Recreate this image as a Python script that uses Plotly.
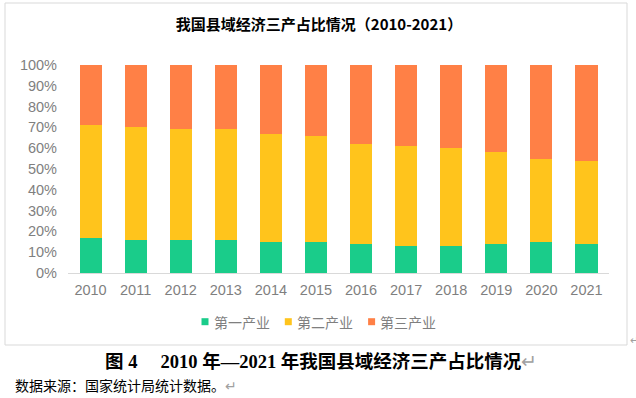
import plotly.graph_objects as go

years = ["2010", "2011", "2012", "2013", "2014", "2015", "2016", "2017", "2018", "2019", "2020", "2021"]
primary = [17, 16, 16, 16, 15, 15, 14, 13, 13, 14, 15, 14]
secondary = [54, 54, 53, 53, 52, 51, 48, 48, 47, 44, 40, 40]
tertiary = [29, 30, 31, 31, 33, 34, 38, 39, 40, 42, 45, 46]
series_names = ["第一产业", "第二产业", "第三产业"]
colors = ["#1ACC8A", "#FFC41C", "#FF8046"]

W, H = 636, 398
L, R, T, B = 68, 609, 65, 273  # plot area in px

def px(x):
    return (x - L) / (R - L)

def py(y):
    return (B - y) / (B - T)

cjk = "Noto Sans CJK SC, Liberation Sans, sans-serif"
fig = go.Figure()
for name, vals, c in zip(series_names, [primary, secondary, tertiary], colors):
    fig.add_trace(go.Bar(x=years, y=vals, name=name, marker=dict(color=c, line=dict(width=0)),
                         width=0.49, showlegend=False))

shapes = [dict(type="rect", xref="paper", yref="paper", x0=px(5), x1=px(627), y0=py(345), y1=py(3),
               line=dict(color="#D9D9D9", width=1), fillcolor="rgba(0,0,0,0)", layer="below")]
annotations = []
# custom legend
leg_x0, leg_dx, leg_y = 205, 83.3, 321.7
for i, (name, c) in enumerate(zip(series_names, colors)):
    cx = leg_x0 + i * leg_dx
    shapes.append(dict(type="rect", xref="paper", yref="paper", x0=px(cx - 3.5), x1=px(cx + 3.5),
                       y0=py(leg_y + 3.5), y1=py(leg_y - 3.5), line=dict(width=0), fillcolor=c))
    annotations.append(dict(text=name, xref="paper", yref="paper", x=px(cx + 6.5), y=py(leg_y + 0.5),
                            xanchor="left", yanchor="middle", showarrow=False,
                            font=dict(family=cjk, size=14, color="#7F7F7F")))

annotations += [
    dict(text="<b>图 4　 2010 年—2021 年我国县域经济三产占比情况</b><span style='color:#A0A0A0'>↵</span>",
         xref="paper", yref="paper", x=px(321), y=py(361), xanchor="center", yanchor="middle",
         showarrow=False, font=dict(family="Liberation Serif, Noto Sans CJK SC, serif", size=18.5, color="#000000")),
    dict(text="数据来源：国家统计局统计数据。<span style='color:#A0A0A0'>↵</span>",
         xref="paper", yref="paper", x=px(13), y=py(385), xanchor="left", yanchor="middle",
         showarrow=False, font=dict(family=cjk, size=14, color="#000000")),
    dict(text="↵", xref="paper", yref="paper", x=px(628), y=py(339), xanchor="left", yanchor="middle",
         showarrow=False, font=dict(family=cjk, size=11, color="#A0A0A0")),
]

fig.update_layout(
    width=W, height=H,
    margin=dict(l=L, r=W - R, t=T, b=H - B),
    barmode="stack",
    paper_bgcolor="white", plot_bgcolor="white",
    title=dict(text="<b>我国县域经济三产占比情况（2010-2021）</b>", x=319 / W, xanchor="center",
               y=1 - 25 / H, yanchor="middle", font=dict(family=cjk, size=15, color="#000000")),
    xaxis=dict(showgrid=False, showline=True, linecolor="#D9D9D9", linewidth=1, ticks="",
               ticklabelstandoff=4,
               tickfont=dict(family="Liberation Sans, sans-serif", size=14.5, color="#7F7F7F")),
    yaxis=dict(range=[0, 100], dtick=10, ticksuffix="%", showgrid=False, zeroline=False,
               showline=False, ticks="", ticklabelstandoff=10,
               tickfont=dict(family="Liberation Sans, sans-serif", size=14.5, color="#7F7F7F")),
    showlegend=False,
    shapes=shapes,
    annotations=annotations,
)

fig.write_html("out.html", config={"displayModeBar": False},
               post_script="document.body.style.margin='0';")
